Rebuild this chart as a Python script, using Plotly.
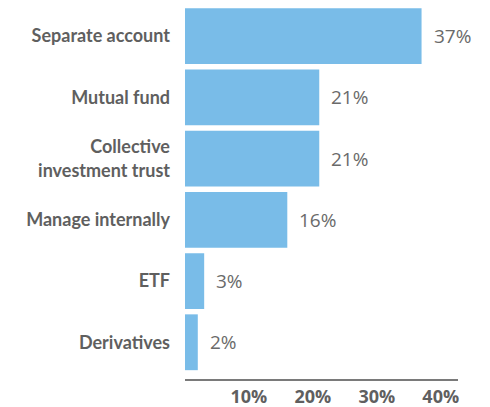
import plotly.graph_objects as go

categories = [
    "Separate account",
    "Mutual fund",
    "Collective<br>investment trust",
    "Manage internally",
    "ETF",
    "Derivatives",
]
shares = [37, 21, 21, 16, 3, 2]
x_ticks = [10, 20, 30, 40]
x_tick_labels = ["10%", "20%", "30%", "40%"]

BAR_COLOR = "#79bce8"
TEXT_GRAY = "#5f5f5f"

fig = go.Figure(
    go.Bar(
        x=shares,
        y=categories,
        orientation="h",
        marker=dict(color=BAR_COLOR, line=dict(width=0)),
        hoverinfo="skip",
    )
)

for cat, val in zip(categories, shares):
    fig.add_annotation(
        x=val,
        y=cat,
        text=f"{val}%",
        showarrow=False,
        xanchor="left",
        xshift=10,
        font=dict(family="Open Sans", size=19, color="#6a6a6a"),
    )

# the page body keeps its default 8px margin, so the figure is 8px smaller
fig.update_layout(
    width=482,
    height=399,
    margin=dict(l=177, r=32, t=0, b=28),
    paper_bgcolor="white",
    plot_bgcolor="white",
    bargap=0.088,
    showlegend=False,
)

fig.update_xaxes(
    range=[0, 42.7],
    tickvals=x_ticks,
    ticktext=x_tick_labels,
    showgrid=False,
    zeroline=False,
    showline=True,
    linecolor="#7a7a7a",
    linewidth=2,
    ticks="",
    automargin=False,
    tickfont=dict(family="Open Sans", size=18, color=TEXT_GRAY, weight="bold"),
)

fig.update_yaxes(
    type="category",
    categoryorder="array",
    categoryarray=categories,
    range=[5.6, -0.46],
    showgrid=False,
    zeroline=False,
    showline=False,
    ticks="",
    automargin=False,
    ticklabelstandoff=14,
    tickfont=dict(family="Lato", size=18, color=TEXT_GRAY, weight="bold"),
)

fig.write_html("out.html")
